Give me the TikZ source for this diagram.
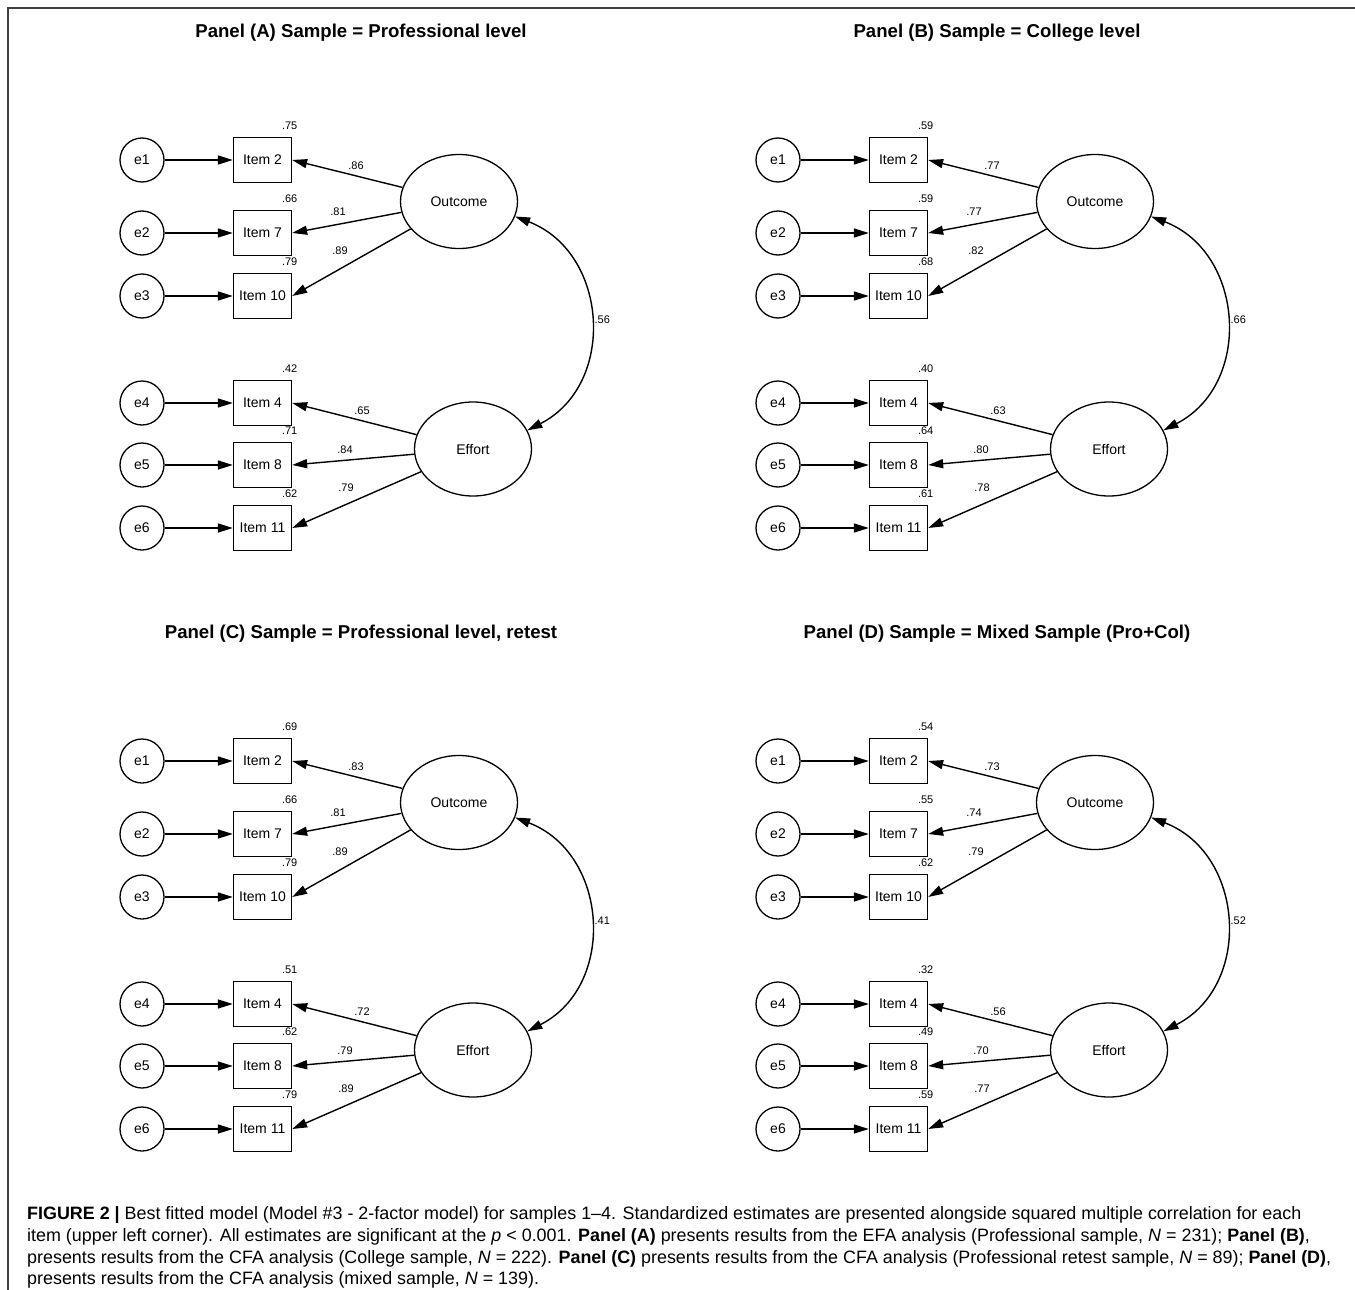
\documentclass[tikz,border=0pt]{standalone}
\usepackage{fontspec}
\setmainfont{Liberation Sans}
\usetikzlibrary{shapes.geometric, arrows.meta}

\tikzset{
  err/.style={draw, circle, line width=1.3pt, minimum size=44pt, inner sep=0pt, font=\fontsize{14}{16}\selectfont},
  item/.style={draw, rectangle, line width=1.3pt, minimum width=58pt, minimum height=45pt, inner sep=0pt, font=\fontsize{14}{16}\selectfont},
  latent/.style={draw, ellipse, line width=1.3pt, minimum width=117pt, minimum height=94pt, inner sep=0pt, font=\fontsize{14}{16}\selectfont},
  arr/.style={line width=1.4pt, -{Triangle[length=15pt, width=9pt]}},
  cov/.style={line width=1.4pt, {Triangle[length=15pt, width=9pt]}-{Triangle[length=15pt, width=9pt]}},
  est/.style={font=\fontsize{11}{13}\selectfont, inner sep=0pt},
  ptitle/.style={font=\bfseries\fontsize{18.6}{21}\selectfont},
  capline/.style={anchor=base west, inner sep=0pt, font=\fontsize{17.9}{20}\selectfont}
}

% one panel: prefix, shift, title, R^2 values, loadings, covariance
\newcommand{\cfapanel}[6]{%
\begin{scope}[shift={#2}, name prefix=#1-]
  \node[ptitle] (title) at (361,-33) {#3};
  \node[latent] (out) at (459,-201.5) {Outcome};
  \node[latent] (eff) at (473,-449) {Effort};
  \foreach \itm/\y [count=\k] in {2/160, 7/233, 10/296, 4/403, 8/465, 11/528} {
    \node[err] (e\k) at (142,-\y) {e\k};
    \node[item] (i\k) at (262.5,-\y) {Item \itm};
    \draw[arr] (e\k) -- (i\k);
  }
  \foreach \k in {1,2,3} \draw[arr] (out) -- (i\k.east);
  \foreach \k in {4,5,6} \draw[arr] (eff) -- (i\k.east);
  \foreach \x/\y [count=\k] in {356/166, 338/212, 340/251, 362/411, 345/450, 346/488}
    \coordinate (l\k) at (\x,-\y);
  \foreach \v [count=\k] in {#4} \node[est] at ([xshift=-2.5pt, yshift=11pt]i\k.north east) {\v};
  \foreach \v [count=\k] in {#5} \node[est] at (l\k) {\v};
  \draw[cov] (out.-15) to[out=-21, in=27, looseness=1.2] node[est, right=4pt] {#6} (eff.19);
\end{scope}}

\begin{document}
\begin{tikzpicture}[x=1pt, y=1pt]
  \useasboundingbox (0,0) rectangle (1355,-1290);
  \draw[line width=2pt, black!75] (8,-1300) -- (8,-8) -- (1365,-8);

  \cfapanel{A}{(0,0)}{Panel (A) Sample = Professional level}{.75,.66,.79,.42,.71,.62}{.86,.81,.89,.65,.84,.79}{.56}
  \cfapanel{B}{(636,0)}{Panel (B) Sample = College level}{.59,.59,.68,.40,.64,.61}{.77,.77,.82,.63,.80,.78}{.66}
  \cfapanel{C}{(0,-601)}{Panel (C) Sample = Professional level, retest}{.69,.66,.79,.51,.62,.79}{.83,.81,.89,.72,.79,.89}{.41}
  \cfapanel{D}{(636,-601)}{Panel (D) Sample = Mixed Sample (Pro+Col)}{.54,.55,.62,.32,.49,.59}{.73,.74,.79,.56,.70,.77}{.52}

  % caption
  \node[capline] (cap1) at (27,-1219) {\textbf{FIGURE 2 |} Best fitted model (Model \#3 - 2-factor model) for samples 1--4. Standardized estimates are presented alongside squared multiple correlation for each};
  \node[capline] (cap2) at (27,-1241) {item (upper left corner). All estimates are significant at the \textit{p} < 0.001. \textbf{Panel (A)} presents results from the EFA analysis (Professional sample, \textit{N} = 231); \textbf{Panel (B)},};
  \node[capline] (cap3) at (27,-1263) {presents results from the CFA analysis (College sample, \textit{N} = 222). \textbf{Panel (C)} presents results from the CFA analysis (Professional retest sample, \textit{N} = 89); \textbf{Panel (D)},};
  \node[capline] (cap4) at (27,-1284) {presents results from the CFA analysis (mixed sample, \textit{N} = 139).};
\end{tikzpicture}
\end{document}
